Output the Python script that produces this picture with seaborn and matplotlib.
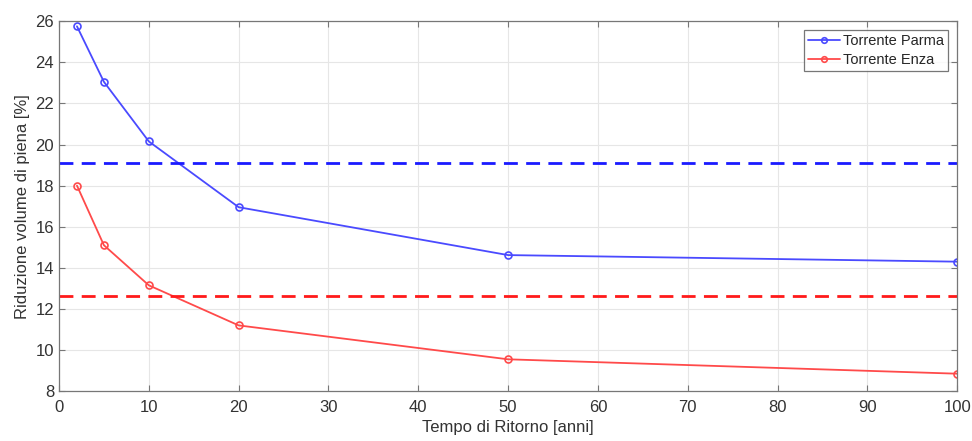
import numpy as np
import pandas as pd
import seaborn as sns
import matplotlib
matplotlib.use("Agg")
from matplotlib import pyplot as plt
from matplotlib.lines import Line2D

sns.set_style("ticks")
plt.rcParams['font.family'] = ['Liberation Sans', 'DejaVu Sans']

## DATA ##
tempo_ritorno = [2, 5, 10, 20, 50, 100]
parma = [25.75, 23.05, 20.15, 16.95, 14.62, 14.3]
enza = [18.0, 15.1, 13.15, 11.2, 9.55, 8.85]
parma_soglia = 19.12
enza_soglia = 12.65
series_names = ['Torrente Parma', 'Torrente Enza']

df = pd.DataFrame({'T': tempo_ritorno * 2,
                   'val': parma + enza,
                   'serie': [series_names[0]] * len(parma) + [series_names[1]] * len(enza)})

fig = plt.figure(figsize=(9.72, 4.41), dpi=100)
ax = fig.add_axes([0.0607, 0.113, 0.924, 0.839])

colori = {'Torrente Parma': '#4a4aff', 'Torrente Enza': '#ff4a4a'}
sns.lineplot(data=df, x='T', y='val', hue='serie', palette=colori, marker='o',
             markersize=5, markerfacecolor='none', markeredgewidth=1.2,
             linewidth=1.3, ax=ax, legend=False)
for l in ax.lines[:2]:
    l.set_markeredgecolor(l.get_color())

ax.axhline(parma_soglia, color='#1a1aff', linestyle='--', linewidth=2, dashes=(5, 3))
ax.axhline(enza_soglia, color='#ff1a1a', linestyle='--', linewidth=2, dashes=(5, 3))

ax.set_xlim(0, 100)
ax.set_ylim(8, 26)
ax.set_xticks(np.arange(0, 101, 10))
ax.set_yticks(np.arange(8, 27, 2))
ax.grid(True, color='#e6e6e6', linewidth=0.8)
ax.tick_params(direction='in', length=4, color='#777777', labelsize=12, labelcolor='#333333',
               top=True, right=True)
ax.tick_params(axis='x', pad=6)
for s in ax.spines.values():
    s.set_color('#777777')
    s.set_linewidth(0.9)

ax.set_xlabel('Tempo di Ritorno [anni]', fontsize=12, color='#333333', labelpad=4)
ax.set_ylabel('Riduzione volume di piena [%]', fontsize=12, color='#333333', labelpad=4)

handles = [Line2D([], [], color=colori[n], marker='o', markersize=4, markerfacecolor='none',
                  markeredgewidth=1.2, linewidth=1.3) for n in series_names]
leg = ax.legend(handles, series_names, loc='upper right', fontsize=10.5, frameon=True,
                fancybox=False, borderpad=0.3, handlelength=2.2, handletextpad=0.2,
                borderaxespad=0.6, labelspacing=0.3)
leg.get_frame().set_edgecolor('#555555')
leg.get_frame().set_linewidth(0.9)

fig.savefig('out.png', dpi=100)
